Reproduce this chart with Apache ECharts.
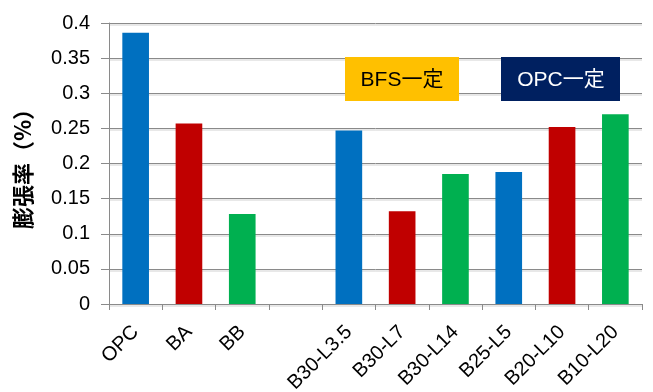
<!DOCTYPE html>
<html>
<head>
<meta charset="utf-8">
<script src="https://cdn.jsdelivr.net/npm/echarts@6/dist/echarts.min.js"></script>
<style>
  html, body { margin: 0; padding: 0; background: #fff; }
  #chart { width: 653px; height: 392px; }
</style>
</head>
<body>
<div id="chart"></div>
<script>
// Mixtures (one empty slot separates the reference group from the B/L series)
const categories = ['OPC', 'BA', 'BB', '', 'B30-L3.5', 'B30-L7', 'B30-L14', 'B25-L5', 'B20-L10', 'B10-L20'];
// Expansion ratio (%)
const expansion = [0.386, 0.257, 0.128, null, 0.247, 0.132, 0.185, 0.188, 0.252, 0.270];
const yTicks = { min: 0, max: 0.4, step: 0.05 };

const BLUE = '#0070C0', RED = '#C00000', GREEN = '#00B050';
const barColors = [BLUE, RED, GREEN, BLUE, BLUE, RED, GREEN, BLUE, RED, GREEN];

const chart = echarts.init(document.getElementById('chart'), null, { renderer: 'canvas' });

const gridLine = {
  color: '#8a8a8a',
  width: 1,
  shadowColor: 'rgba(0,0,0,0.18)',
  shadowBlur: 0,
  shadowOffsetY: 1.5
};

const latin = '"Liberation Sans", Arial, sans-serif';
const boxFont = '21px "Liberation Sans", "Noto Sans CJK JP", sans-serif';

chart.setOption({
  animation: false,
  backgroundColor: '#fff',
  grid: { left: 109, right: 11, top: 23, bottom: 88, containLabel: false, outerBoundsMode: 'none' },
  xAxis: {
    type: 'category',
    data: categories,
    axisLine: { lineStyle: { color: '#8a8a8a', width: 1 } },
    axisTick: { show: true, alignWithLabel: false, length: 6, lineStyle: { color: '#8a8a8a' } },
    axisLabel: {
      interval: 0,
      rotate: 45,
      margin: 25,
      color: '#000',
      fontFamily: latin,
      fontSize: 20
    }
  },
  yAxis: {
    type: 'value',
    min: yTicks.min,
    max: yTicks.max,
    interval: yTicks.step,
    name: '膨張率（%）',
    nameLocation: 'middle',
    nameGap: 75,
    nameRotate: 90,
    nameTextStyle: {
      color: '#000',
      fontFamily: '"Noto Sans CJK JP", sans-serif',
      fontSize: 22,
      fontWeight: 'bold'
    },
    axisLine: { show: true, lineStyle: { color: '#8a8a8a', width: 1 } },
    axisTick: { show: true, length: 8, lineStyle: { color: '#8a8a8a' } },
    splitLine: { show: true, lineStyle: gridLine },
    axisLabel: {
      margin: 19,
      color: '#000',
      fontFamily: latin,
      fontSize: 20
    }
  },
  series: [{
    type: 'bar',
    barWidth: '50%',
    data: expansion.map((v, i) => ({ value: v, itemStyle: { color: barColors[i] } }))
  }],
  graphic: [
    {
      type: 'group',
      left: 345, top: 57, z: 100,
      children: [
        { type: 'rect', z: 100, shape: { x: 0, y: 0, width: 114, height: 44 }, style: { fill: '#FFC000' } },
        { type: 'text', z: 101, x: 57, y: 23, style: {
            text: 'BFS一定', fill: '#000', align: 'center', verticalAlign: 'middle', font: boxFont } }
      ]
    },
    {
      type: 'group',
      left: 501, top: 57, z: 100,
      children: [
        { type: 'rect', z: 100, shape: { x: 0, y: 0, width: 119, height: 44 }, style: { fill: '#002060' } },
        { type: 'text', z: 101, x: 60, y: 23, style: {
            text: 'OPC一定', fill: '#fff', align: 'center', verticalAlign: 'middle', font: boxFont } }
      ]
    }
  ]
});
</script>
</body>
</html>
